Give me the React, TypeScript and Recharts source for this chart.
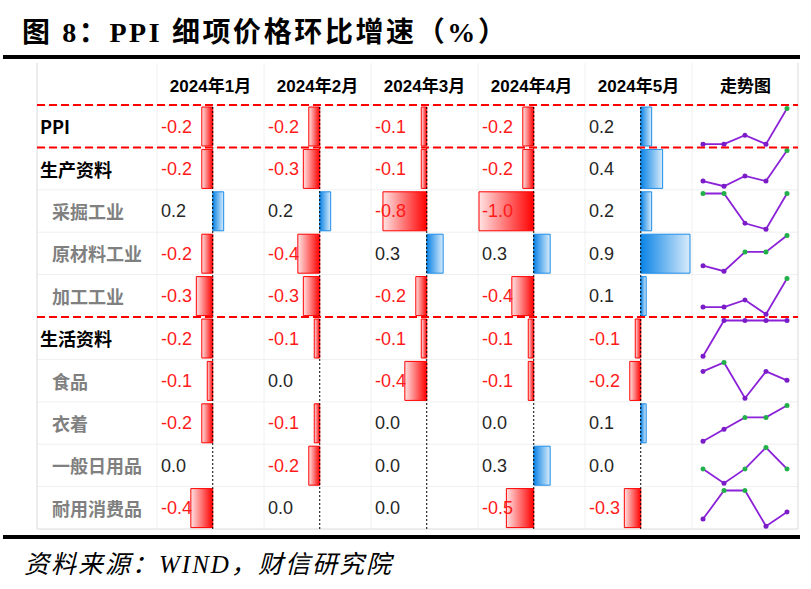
import { BarChart, Bar, XAxis, YAxis, Cell, ReferenceLine, LineChart, Line } from "recharts"

// 月份（列）
const months = ["2024年1月", "2024年2月", "2024年3月", "2024年4月", "2024年5月"]

// 行项目
const rowNames = ["PPI", "生产资料", "采掘工业", "原材料工业", "加工工业", "生活资料", "食品", "衣着", "一般日用品", "耐用消费品"]
const groupRows = ["PPI", "生产资料", "生活资料"]

// 各项环比 (%)，顺序同 months
const ppi = [-0.2, -0.2, -0.1, -0.2, 0.2]
const production = [-0.2, -0.3, -0.1, -0.2, 0.4]
const mining = [0.2, 0.2, -0.8, -1.0, 0.2]
const rawMaterial = [-0.2, -0.4, 0.3, 0.3, 0.9]
const processing = [-0.3, -0.3, -0.2, -0.4, 0.1]
const living = [-0.2, -0.1, -0.1, -0.1, -0.1]
const food = [-0.1, 0.0, -0.4, -0.1, -0.2]
const clothing = [-0.2, -0.1, 0.0, 0.0, 0.1]
const dailyUse = [0.0, -0.2, 0.0, 0.3, 0.0]
const durables = [-0.4, 0.0, 0.0, -0.5, -0.3]

const rowValues = [ppi, production, mining, rawMaterial, processing, living, food, clothing, dailyUse, durables]

// data bar range shared by all month columns
const barDomain = [-1.0, 0.9]

// layout
const TABLE_L = 37
const TABLE_R = 798
const HEAD_T = 63
const BODY_T = 105
const ROW_H = 42.4
const LABEL_W = 120
const COL_W = 107
const BODY_B = BODY_T + ROW_H * rowNames.length
const colX = (j: number) => TABLE_L + LABEL_W + j * COL_W
const SPARK_X = colX(months.length)

const numFont = '"Liberation Sans", "Noto Sans CJK SC", sans-serif'
const cjkFont = '"Noto Sans CJK SC", "Liberation Sans", sans-serif'

const fmt = (v: number) => v.toFixed(1)

const SparkDot = (props: any) => {
  const { cx, cy, payload, index } = props
  if (cx == null || cy == null) return null
  return <circle key={"d" + index} cx={cx} cy={cy} r={2.5} fill={payload.v < 0 ? "#7A1CC8" : "#22B04B"} />
}

const MonthBars = ({ j }: { j: number }) => {
  const data = rowNames.map((name, i) => ({ name, v: rowValues[i][j] }))
  return (
    <div style={{ position: "absolute", left: colX(j), top: BODY_T }}>
      <BarChart layout="vertical" width={COL_W} height={BODY_B - BODY_T} data={data}
        margin={{ top: 0, right: 2, bottom: 0, left: 1 }} barSize={39}>
        <defs>
          <linearGradient id={"neg" + j} x1="0" y1="0" x2="1" y2="0">
            <stop offset="0%" stopColor="#FFE3E3" />
            <stop offset="100%" stopColor="#FF0000" />
          </linearGradient>
          <linearGradient id={"pos" + j} x1="0" y1="0" x2="1" y2="0">
            <stop offset="0%" stopColor="#0A84E6" />
            <stop offset="100%" stopColor="#D9ECFB" />
          </linearGradient>
        </defs>
        <XAxis type="number" domain={barDomain} hide />
        <YAxis type="category" dataKey="name" hide />
        <Bar dataKey="v" isAnimationActive={false}>
          {data.map((d, i) => (
            <Cell key={i} fill={d.v < 0 ? `url(#neg${j})` : `url(#pos${j})`}
              stroke={d.v < 0 ? "#FF0000" : "#1C8CE8"} strokeWidth={1} />
          ))}
        </Bar>
        <ReferenceLine x={0} stroke="#000" strokeDasharray="2 2" strokeWidth={1} />
      </BarChart>
    </div>
  )
}

const Spark = ({ i }: { i: number }) => {
  const data = months.map((m, j) => ({ m, v: rowValues[i][j] }))
  return (
    <div style={{ position: "absolute", left: SPARK_X, top: BODY_T + i * ROW_H }}>
      <LineChart width={COL_W} height={ROW_H} data={data}
        margin={{ top: 3.5, right: 12, bottom: 3.2, left: 11 }}>
        <XAxis dataKey="m" hide />
        <YAxis domain={["dataMin", "dataMax"]} hide />
        <Line dataKey="v" stroke="#8B22D8" strokeWidth={1.8} dot={SparkDot} isAnimationActive={false} />
      </LineChart>
    </div>
  )
}

const App = () => {
  const vLines = [0, 1, 2, 3, 4, 5].map((j) => colX(j))
  const redRows = [0, 1, 5]
  return (
    <div style={{ position: "absolute", left: 0, top: 0, width: 811, height: 589, background: "#fff", overflow: "hidden" }}>
      {/* title */}
      <div style={{ position: "absolute", left: 22, top: 18, fontFamily: '"Liberation Serif", "Noto Sans CJK SC", serif', fontWeight: "bold", fontSize: 28, letterSpacing: 2.6, lineHeight: "30px", whiteSpace: "nowrap", color: "#000" }}>
        图 8：PPI 细项价格环比增速（%）
      </div>
      <div style={{ position: "absolute", left: 3, top: 55, width: 797, height: 4, background: "#000" }} />

      {/* grid */}
      <svg width={811} height={589} style={{ position: "absolute", left: 0, top: 0 }}>
        {rowNames.map((_, i) => (
          <line key={"h" + i} x1={TABLE_L} x2={TABLE_R} y1={BODY_T + i * ROW_H} y2={BODY_T + i * ROW_H} stroke="#EFEFEF" />
        ))}
        {vLines.map((x, k) => (
          <line key={"v" + k} x1={x} x2={x} y1={HEAD_T} y2={BODY_B} stroke="#F0F0F0" />
        ))}
        <line x1={TABLE_L} x2={TABLE_L} y1={HEAD_T} y2={BODY_B} stroke="#DADADA" />
        <line x1={TABLE_R} x2={TABLE_R} y1={HEAD_T} y2={BODY_B} stroke="#DADADA" />
        <line x1={TABLE_L} x2={TABLE_R} y1={BODY_B} y2={BODY_B} stroke="#DADADA" />
      </svg>

      {/* header */}
      {months.map((m, j) => (
        <div key={m} style={{ position: "absolute", left: colX(j), top: HEAD_T, width: COL_W, height: BODY_T - HEAD_T, display: "flex", alignItems: "center", justifyContent: "center", fontFamily: numFont, fontWeight: "bold", fontSize: 17, color: "#000" }}>
          {m}
        </div>
      ))}
      <div style={{ position: "absolute", left: SPARK_X, top: HEAD_T, width: COL_W, height: BODY_T - HEAD_T, display: "flex", alignItems: "center", justifyContent: "center", fontFamily: cjkFont, fontWeight: "bold", fontSize: 17, color: "#000" }}>
        走势图
      </div>

      {/* data bars and sparklines */}
      {months.map((_, j) => <MonthBars key={j} j={j} />)}
      {rowNames.map((_, i) => <Spark key={i} i={i} />)}

      {/* row labels */}
      {rowNames.map((name, i) => {
        const group = groupRows.includes(name)
        return (
          <div key={name} style={{ position: "absolute", left: group ? 40 : 52, top: BODY_T + i * ROW_H, height: ROW_H, display: "flex", alignItems: "center", fontFamily: cjkFont, fontWeight: "bold", fontSize: 18, color: group ? "#000" : "#808080", whiteSpace: "nowrap" }}>
            {name}
          </div>
        )
      })}

      {/* values */}
      {rowValues.map((vals, i) => vals.map((v, j) => (
        <div key={i + "-" + j} style={{ position: "absolute", left: colX(j) + 4, top: BODY_T + i * ROW_H + 1, height: ROW_H, display: "flex", alignItems: "center", fontFamily: numFont, fontSize: 18, color: v < 0 ? "#FF1A1A" : "#262626", whiteSpace: "nowrap" }}>
          {fmt(v)}
        </div>
      )))}

      {/* red dashed separators */}
      <svg width={811} height={589} style={{ position: "absolute", left: 0, top: 0, pointerEvents: "none" }}>
        {redRows.map((r) => (
          <line key={r} x1={TABLE_L} x2={TABLE_R} y1={BODY_T + r * ROW_H} y2={BODY_T + r * ROW_H} stroke="#FF0000" strokeWidth={2} strokeDasharray="8 4" />
        ))}
      </svg>

      <div style={{ position: "absolute", left: 3, top: 535, width: 797, height: 4, background: "#000" }} />
      {/* source */}
      <div style={{ position: "absolute", left: 24, top: 551, fontFamily: '"Liberation Serif", "Noto Sans CJK SC", serif', fontStyle: "italic", fontSize: 25, letterSpacing: 2, lineHeight: "28px", whiteSpace: "nowrap", color: "#000" }}>
        资料来源：WIND，财信研究院
      </div>
    </div>
  )
}

export default App
